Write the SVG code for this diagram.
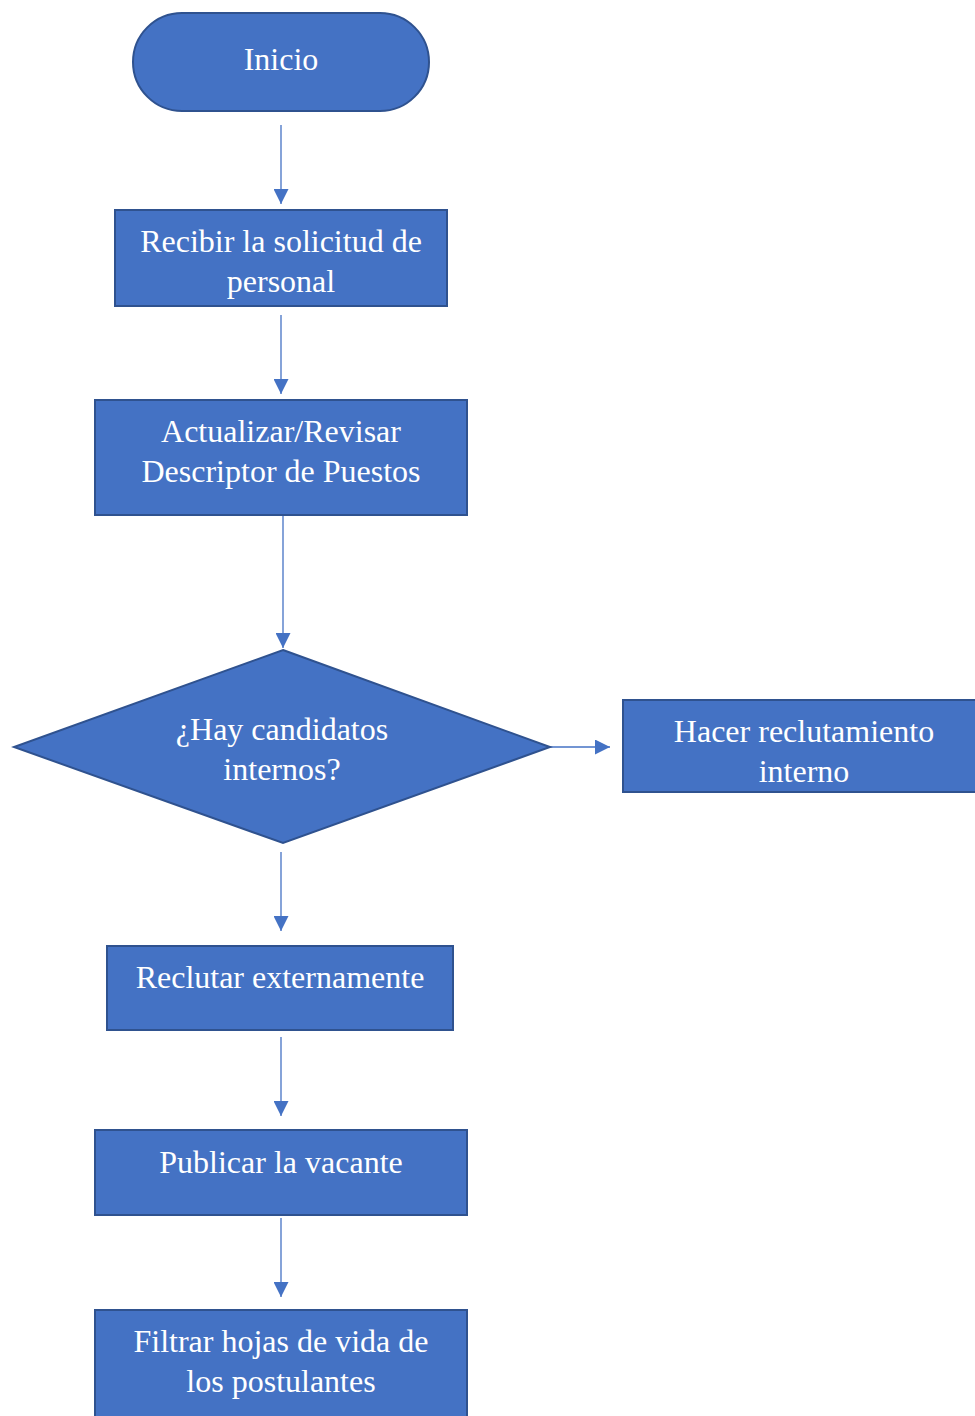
<svg xmlns="http://www.w3.org/2000/svg" width="975" height="1416" viewBox="0 0 975 1416">
<style>
.n{fill:#4472C4;stroke:#2F528F;stroke-width:2}
.t{font-size:32px;fill:#fff;text-anchor:middle}
.c{stroke:#4472C4;stroke-width:1.3;fill:none;marker-end:url(#a)}
</style>
<defs>
<marker id="a" viewBox="0 0 10 10" refX="10" refY="5" markerWidth="15" markerHeight="15" markerUnits="userSpaceOnUse" orient="auto">
<path d="M0,0L10,5L0,10z" fill="#4472C4"/>
</marker>
</defs>
<rect width="975" height="1416" fill="#fff"/>
<g id="connectors">
<path class="c" d="M281,125V204"/>
<path class="c" d="M281,315V394"/>
<path class="c" d="M283,516V648"/>
<path class="c" d="M550,747H610"/>
<path class="c" d="M281,852V931"/>
<path class="c" d="M281,1037V1116"/>
<path class="c" d="M281,1218V1297"/>
</g>
<g font-family="Liberation Serif, serif">
<g id="inicio"><rect class="n" x="133" y="13" width="296" height="98" rx="49"/><text class="t" x="281" y="70">Inicio</text></g>
<g id="recibir"><rect class="n" x="115" y="210" width="332" height="96"/><text class="t" x="281" y="252">Recibir la solicitud de</text><text class="t" x="281" y="292">personal</text></g>
<g id="actualizar"><rect class="n" x="95" y="400" width="372" height="115"/><text class="t" x="281" y="442">Actualizar/Revisar</text><text class="t" x="281" y="482">Descriptor de Puestos</text></g>
<g id="decision"><path class="n" d="M283,650L550,747L283,843L14,747Z"/><text class="t" x="282" y="740">¿Hay candidatos</text><text class="t" x="282" y="780">internos?</text></g>
<g id="interno"><rect class="n" x="623" y="700" width="360" height="92"/><text class="t" x="804" y="742">Hacer reclutamiento</text><text class="t" x="804" y="782">interno</text></g>
<g id="externo"><rect class="n" x="107" y="946" width="346" height="84"/><text class="t" x="280" y="988">Reclutar externamente</text></g>
<g id="publicar"><rect class="n" x="95" y="1130" width="372" height="85"/><text class="t" x="281" y="1173">Publicar la vacante</text></g>
<g id="filtrar"><rect class="n" x="95" y="1310" width="372" height="120"/><text class="t" x="281" y="1352">Filtrar hojas de vida de</text><text class="t" x="281" y="1392">los postulantes</text></g>
</g>
</svg>
